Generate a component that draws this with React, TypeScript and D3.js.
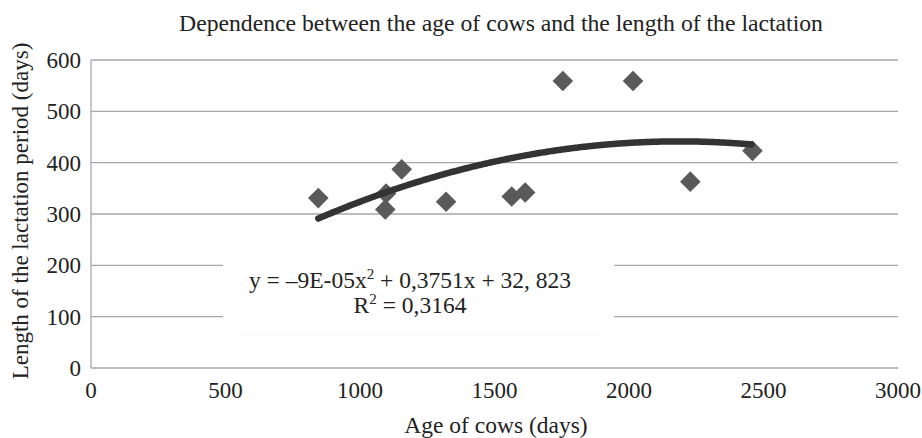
import React from "react";
import * as d3 from "d3";

const title = "Dependence between the age of cows and the length of the lactation";
const xTitle = "Age of cows (days)";
const yTitle = "Length of the lactation period (days)";
const ageDays = [845, 1094, 1097, 1155, 1320, 1564, 1614, 1754, 2015, 2228, 2459];
const lactationDays = [331, 309, 340, 387, 324, 334, 342, 559, 559, 363, 423];
const xTicks = [0, 500, 1000, 1500, 2000, 2500, 3000];
const yTicks = [0, 100, 200, 300, 400, 500, 600];
const eqLine1 = "y = –9E-05x";
const eqLine1b = "+ 0,3751x + 32, 823";
const eqLine2 = "0,3164";

// least-squares quadratic fit of the data
function quadFit(xs: number[], ys: number[]) {
  const n = xs.length;
  const s = [0, 0, 0, 0, 0];
  const t = [0, 0, 0];
  for (let i = 0; i < n; i++) {
    const x = xs[i] / 1000, y = ys[i];
    for (let k = 0; k < 5; k++) s[k] += Math.pow(x, k);
    for (let k = 0; k < 3; k++) t[k] += y * Math.pow(x, k);
  }
  const M = [
    [s[0], s[1], s[2], t[0]],
    [s[1], s[2], s[3], t[1]],
    [s[2], s[3], s[4], t[2]],
  ];
  for (let i = 0; i < 3; i++) {
    for (let j = i + 1; j < 3; j++) {
      const f = M[j][i] / M[i][i];
      for (let k = i; k < 4; k++) M[j][k] -= f * M[i][k];
    }
  }
  const c = [0, 0, 0];
  for (let i = 2; i >= 0; i--) {
    let v = M[i][3];
    for (let k = i + 1; k < 3; k++) v -= M[i][k] * c[k];
    c[i] = v / M[i][i];
  }
  return (x: number) => c[0] + c[1] * (x / 1000) + c[2] * (x / 1000) * (x / 1000);
}

export default function App() {
  const W = 922, H = 438;
  const x = d3.scaleLinear().domain([0, 3000]).range([91, 898]);
  const y = d3.scaleLinear().domain([0, 600]).range([368, 60]);
  const f = quadFit(ageDays, lactationDays);
  const xMin = d3.min(ageDays)!, xMax = d3.max(ageDays)!;
  const trend = d3.range(xMin, xMax + 1, 10).map((v) => [v, f(v)] as [number, number]);
  const line = d3.line<[number, number]>().x((d) => x(d[0])).y((d) => y(d[1])).curve(d3.curveMonotoneX);
  const font = "'Liberation Serif', 'Times New Roman', serif";
  const diamond = d3.symbol().type(d3.symbolDiamond2).size(270)();
  const txt = "#222";
  return (
    <svg width={W} height={H} style={{ position: "absolute", left: 0, top: 0, background: "#fff" }} fontFamily={font}>
      <defs>
        <filter id="soft" x="-10%" y="-20%" width="120%" height="140%">
          <feGaussianBlur stdDeviation="2" />
        </filter>
      </defs>
      <rect width={W} height={H} fill="#fff" />
      <text x={501} y={31} textAnchor="middle" fontSize={23.7} fill={txt}>{title}</text>
      {yTicks.map((t) => (
        <g key={t}>
          {t > 0 && <line x1={x(0)} x2={x(3000)} y1={y(t)} y2={y(t)} stroke="#a6a6a6" strokeWidth={1.3} />}
          <text x={81} y={y(t) + 8} textAnchor="end" fontSize={23} fill={txt}>{t}</text>
        </g>
      ))}
      <line x1={x(0)} x2={x(0)} y1={y(600)} y2={y(0)} stroke="#a6a6a6" strokeWidth={1.3} />
      <line x1={x(0)} x2={x(3000)} y1={y(0)} y2={y(0)} stroke="#a6a6a6" strokeWidth={1.3} />
      {xTicks.map((t) => (
        <text key={t} x={x(t)} y={398} textAnchor="middle" fontSize={23} fill={txt}>{t}</text>
      ))}
      <text x={496} y={433} textAnchor="middle" fontSize={23.5} fill={txt}>{xTitle}</text>
      <text transform={`translate(28,${y(300) - 3}) rotate(-90)`} textAnchor="middle" fontSize={23} fill={txt}>{yTitle}</text>
      {ageDays.map((a, i) => (
        <path key={i} d={diamond!} transform={`translate(${x(a)},${y(lactationDays[i])})`} fill="#5a5a5a" />
      ))}
      <path d={line(trend)!} fill="none" stroke="#333" strokeWidth={6.5} strokeLinecap="round" />
      <rect x={226} y={257} width={386} height={76} rx={8} fill="#e6e6e6" filter="url(#soft)" opacity={0.5} />
      <rect x={223} y={254} width={391} height={80} rx={6} fill="#fff" />
      <text x={410} y={288} textAnchor="middle" fontSize={23.5} fill={txt}>
        {eqLine1}
        <tspan dy={-9} fontSize={15}>2</tspan>
        <tspan dy={9}> {eqLine1b}</tspan>
      </text>
      <text x={410} y={313} textAnchor="middle" fontSize={23.5} fill={txt}>
        R<tspan dy={-9} fontSize={15}>2</tspan>
        <tspan dy={9}> = {eqLine2}</tspan>
      </text>
    </svg>
  );
}
